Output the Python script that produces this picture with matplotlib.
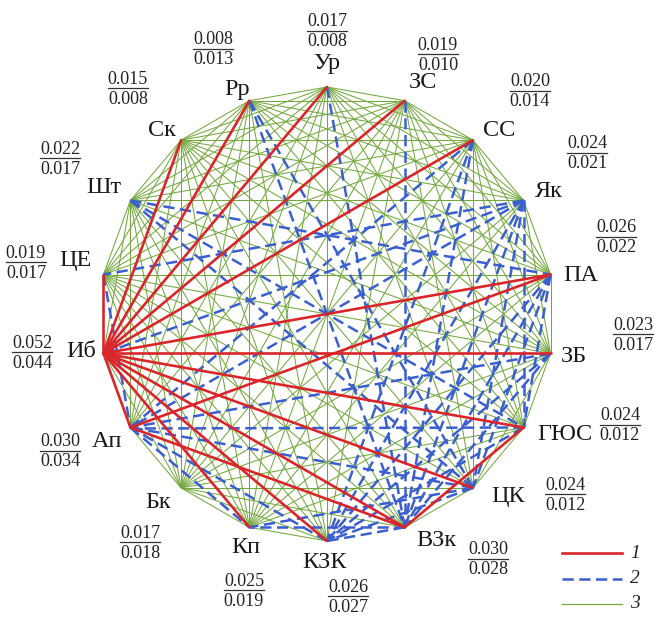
import matplotlib
matplotlib.use("Agg")
import matplotlib.pyplot as plt
import numpy as np
from itertools import combinations

# ---- data ----
nodes = ["Ур", "ЗС", "СС", "Як", "ПА", "ЗБ", "ГЮС", "ЦК", "ВЗк", "КЗК",
         "Кп", "Бк", "Ап", "Иб", "ЦЕ", "Шт", "Ск", "Рр"]
val_top = ["0.017", "0.019", "0.020", "0.024", "0.026", "0.023", "0.024", "0.024", "0.030",
           "0.026", "0.025", "0.017", "0.030", "0.052", "0.019", "0.022", "0.015", "0.008"]
val_bot = ["0.008", "0.010", "0.014", "0.021", "0.022", "0.017", "0.012", "0.012", "0.028",
           "0.027", "0.019", "0.018", "0.034", "0.044", "0.017", "0.017", "0.008", "0.013"]

red_edges = [("Иб", "ЦЕ"), ("Иб", "Ск"), ("Иб", "Рр"), ("Иб", "Ур"), ("Иб", "ЗС"), ("Иб", "СС"),
             ("Иб", "ПА"), ("Иб", "ЗБ"), ("Иб", "ГЮС"), ("Иб", "ЦК"), ("Иб", "ВЗк"), ("Иб", "КЗК"),
             ("Иб", "Кп"), ("Иб", "Ап"), ("Ап", "ПА"), ("Ап", "ВЗк"), ("ГЮС", "ВЗк")]
blue_edges = [("Шт", "ПА"), ("Шт", "ГЮС"), ("Шт", "ЦК"),
              ("Рр", "ВЗк"), ("Рр", "ЦК"),
              ("Ур", "ВЗк"), ("ЗС", "ВЗк"),
              ("СС", "Ап"), ("СС", "ВЗк"), ("СС", "КЗК"),
              ("Як", "ЦЕ"), ("Як", "Иб"), ("Як", "Ап"), ("Як", "ГЮС"), ("Як", "ЦК"),
              ("Як", "ВЗк"), ("Як", "КЗК"),
              ("ПА", "ЦК"), ("ПА", "ВЗк"), ("ПА", "КЗК"), ("ПА", "ГЮС"),
              ("ЗБ", "ВЗк"), ("ЗБ", "КЗК"), ("ЗБ", "Ап"),
              ("ГЮС", "Ап"), ("ГЮС", "КЗК"),
              ("ЦК", "Ап"), ("ЦК", "КЗК"), ("ЦК", "Кп"),
              ("ВЗк", "КЗК"), ("ВЗк", "Кп"),
              ("КЗК", "Ап"), ("Ап", "Кп"), ("ЦЕ", "Ап")]
legend_labels = ["1", "2", "3"]

# ---- layout ----
W, H = 657, 617
cx, cy, R = 327, 314, 227
n = len(nodes)
ang = np.deg2rad(np.arange(n) * 360.0 / n)
pos = {name: (cx + R * np.sin(a), cy - R * np.cos(a)) for name, a in zip(nodes, ang)}

name_off = {"Ур": (0, -24), "ЗС": (18, -18), "СС": (26, -10), "Як": (25, -9), "ПА": (30, 1),
            "ЗБ": (23, 3), "ГЮС": (41, 7), "ЦК": (35, 9), "ВЗк": (32, 13), "КЗК": (-2, 21),
            "Кп": (-4, 20), "Бк": (-23, 15), "Ап": (-23, 14), "Иб": (-22, -2), "ЦЕ": (-28, -14),
            "Шт": (-27, -13), "Ск": (-19, -10), "Рр": (-12, -11)}
frac_pos = {"Ур": (327, 32), "ЗС": (438, 55), "СС": (530, 92), "Як": (587, 154), "ПА": (616, 238),
            "ЗБ": (633, 335), "ГЮС": (620, 426), "ЦК": (565, 495), "ВЗк": (488, 560),
            "КЗК": (348, 597), "Кп": (244, 591), "Бк": (140, 543), "Ап": (60, 452),
            "Иб": (32, 353), "ЦЕ": (26, 263), "Шт": (60, 159), "Ск": (128, 89), "Рр": (213, 50)}

RED = "#d9262a"
BLUE = "#3b5fcf"
GREEN = "#74a83e"

fig = plt.figure(figsize=(W / 100, H / 100), dpi=100)
ax = fig.add_axes([0, 0, 1, 1])
ax.set_xlim(0, W)
ax.set_ylim(H, 0)
ax.axis("off")

special = set(frozenset(e) for e in red_edges + blue_edges)
for a, b in combinations(nodes, 2):
    if frozenset((a, b)) in special:
        continue
    (x1, y1), (x2, y2) = pos[a], pos[b]
    ax.plot([x1, x2], [y1, y2], color=GREEN, lw=0.75, zorder=1, solid_capstyle="butt")
for a, b in blue_edges:
    (x1, y1), (x2, y2) = pos[a], pos[b]
    ax.plot([x1, x2], [y1, y2], color=BLUE, lw=1.8, ls=(0, (4.5, 2.2)), zorder=2)
for a, b in red_edges:
    (x1, y1), (x2, y2) = pos[a], pos[b]
    ax.plot([x1, x2], [y1, y2], color=RED, lw=1.9, zorder=3, solid_capstyle="round")

serif = ["Liberation Serif", "DejaVu Serif"]
for name in nodes:
    x, y = pos[name]
    dx, dy = name_off[name]
    ax.text(x + dx, y + dy, name, fontsize=17.5, family=serif, ha="center", va="center",
            color="#1a1a1a", zorder=5)
    fx, fy = frac_pos[name]
    i = nodes.index(name)
    ax.text(fx, fy - 1.5, val_top[i], fontsize=13, family=serif, ha="center", va="bottom",
            color="#222222", zorder=5)
    ax.text(fx, fy + 1.5, val_bot[i], fontsize=13, family=serif, ha="center", va="top",
            color="#222222", zorder=5)
    ax.plot([fx - 20, fx + 20], [fy - 1, fy - 1], color="#333333", lw=0.9, zorder=5)

# legend
leg_styles = [dict(color=RED, lw=1.9), dict(color=BLUE, lw=1.8, ls=(0, (4.5, 2.2))),
              dict(color=GREEN, lw=0.9)]
for k, (lab, st) in enumerate(zip(legend_labels, leg_styles)):
    yy = 553 + 25.5 * k
    ax.plot([562, 622], [yy, yy], **st)
    ax.text(630, yy, lab, fontsize=14, family=serif, style="italic", ha="left", va="center",
            color="#222222")

fig.savefig("out.png", dpi=100)
